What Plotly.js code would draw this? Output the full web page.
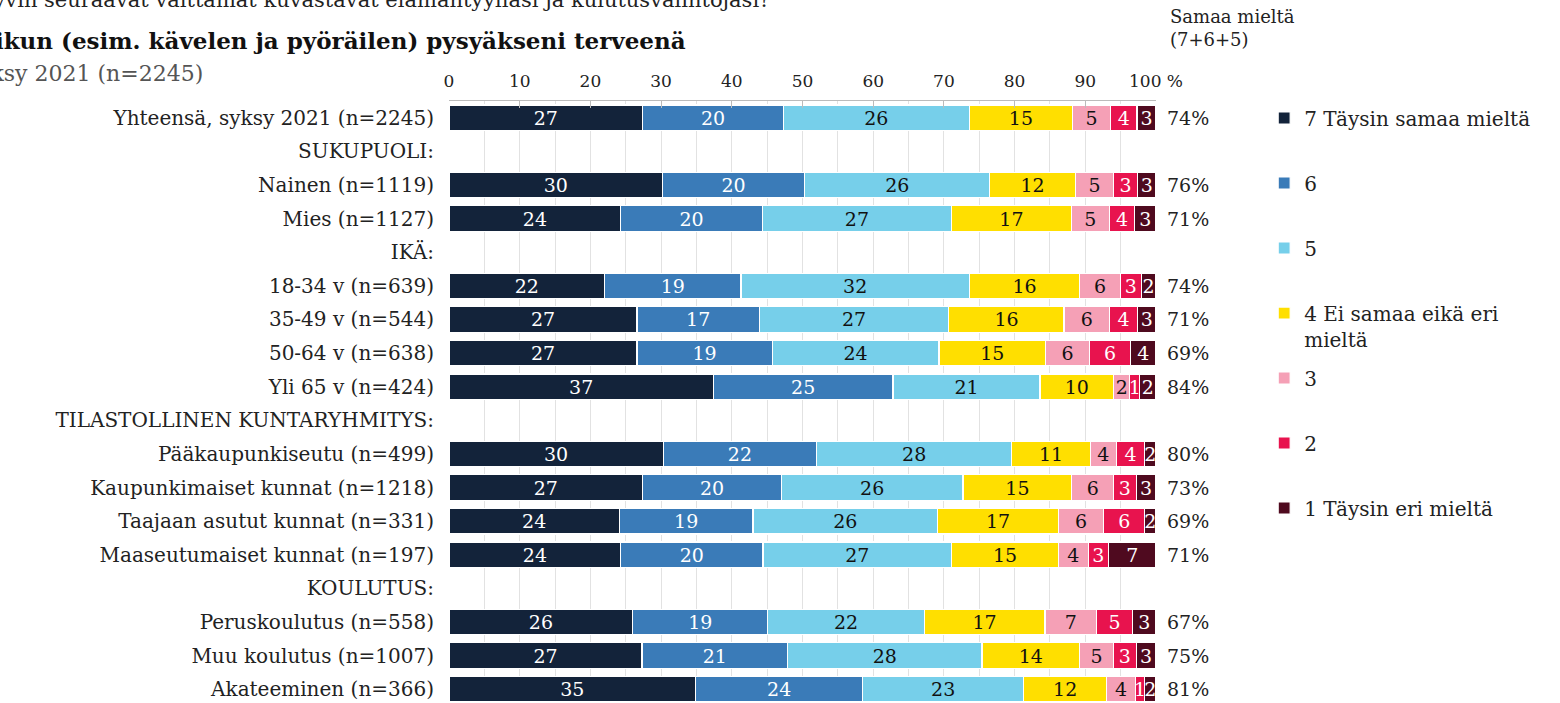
<!DOCTYPE html>
<html>
<head>
<meta charset="utf-8">
<script src="https://cdn.plot.ly/plotly-3.0.1.min.js"></script>
<style>body{margin:0;background:#fff}#plot{width:1560px;height:703px}</style>
</head>
<body>
<div id="plot"></div>
<script>
// rivit ylhäältä alas
const categories=["Yhteensä, syksy 2021 (n=2245)","SUKUPUOLI:","Nainen (n=1119)","Mies (n=1127)","IKÄ:","18-34 v (n=639)","35-49 v (n=544)","50-64 v (n=638)","Yli 65 v (n=424)","TILASTOLLINEN KUNTARYHMITYS:","Pääkaupunkiseutu (n=499)","Kaupunkimaiset kunnat (n=1218)","Taajaan asutut kunnat (n=331)","Maaseutumaiset kunnat (n=197)","KOULUTUS:","Peruskoulutus (n=558)","Muu koulutus (n=1007)","Akateeminen (n=366)"];
const s7=[27.4,null,30.2,24.3,null,22.0,26.6,26.6,37.4,null,30.3,27.4,24.1,24.3,null,26.0,27.3,34.9];
const s6=[19.9,null,20.1,20.0,null,19.3,17.3,19.1,25.4,null,21.7,19.6,18.9,20.1,null,19.1,20.6,23.6];
const s5=[26.3,null,26.2,26.8,null,32.3,26.8,23.6,20.8,null,27.6,25.7,26.1,26.7,null,22.1,27.5,22.8];
const s4=[14.6,null,12.1,16.9,null,15.6,16.3,15.1,10.4,null,11.1,15.4,17.1,15.1,null,17.1,13.8,11.7];
const s3=[5.4,null,5.4,5.4,null,5.8,6.4,6.2,2.3,null,3.7,5.9,6.4,4.2,null,7.3,4.8,4.1];
const s2=[3.7,null,3.4,3.6,null,2.9,4.0,5.8,1.4,null,4.0,3.2,5.8,2.9,null,5.1,3.2,1.3];
const s1=[2.7,null,2.6,3.0,null,2.1,2.6,3.6,2.3,null,1.6,2.8,1.6,6.7,null,3.3,2.8,1.6];
const samaa=[74,null,76,71,null,74,71,69,84,null,80,73,69,71,null,67,75,81];
const names=["7 Täysin samaa mieltä","6","5","4 Ei samaa eikä eri<br>mieltä","3","2","1 Täysin eri mieltä"];
const xticks=[0,10,20,30,40,50,60,70,80,90,100];
const xticktext=["0","10","20","30","40","50","60","70","80","90","100 %"];

const series=[s7,s6,s5,s4,s3,s2,s1];
const colors=["#13233a","#3a7bb8","#76cfea","#ffdf00","#f5a0b6","#e8134e","#4f0a1f"];
const textcols=["#fff","#fff","#111","#111","#111","#fff","#fff"];
const legY=[0.9718,0.8638,0.7558,0.6262,0.5399,0.4319,0.3239];
const FONT="DejaVu Serif";

let data=[];
let layout={
  width:1560,height:703,
  margin:{l:449,r:404,t:101,b:0,pad:0},
  paper_bgcolor:"#fff",plot_bgcolor:"#fff",
  font:{family:FONT,size:20,color:"#222"},
  barmode:"stack",bargap:0.24,showlegend:true,
  uniformtext:{mode:"show",minsize:19},
  xaxis:{range:[0,100],side:"top",tickvals:xticks,ticktext:xticktext,ticks:"inside",ticklen:7,tickcolor:"#bbb",
    showline:true,linecolor:"#bbb",showgrid:true,gridcolor:"#e2e2e2",zeroline:false,fixedrange:true,
    ticklabelstandoff:6,tickfont:{size:17,color:"#222"},
    minor:{dtick:5,showgrid:true,gridcolor:"#e2e2e2"}},
  yaxis:{type:"category",categoryorder:"array",categoryarray:categories,range:[17.41,-0.5],
    showgrid:false,zeroline:false,ticks:"",ticklabelstandoff:14,tickfont:{size:20,color:"#222"}},
  annotations:[],
};
for(let k=0;k<series.length;k++){
  let lg=k==0?"legend":"legend"+(k+1);
  data.push({type:"bar",orientation:"h",y:categories,x:series[k],name:names[k],legend:lg,
    marker:{color:colors[k],line:{color:"#fff",width:1.2}},
    texttemplate:"%{x:.0f}",textposition:"inside",insidetextanchor:"middle",textangle:0,
    textfont:{family:FONT,size:19,color:textcols[k]},hoverinfo:"x+name"});
  layout[lg]={x:1.153,y:legY[k],xanchor:"left",yanchor:"middle",bgcolor:"rgba(0,0,0,0)",
    valign:"top",font:{family:FONT,size:20,color:"#222"}};
}
for(let i=0;i<categories.length;i++){
  if(samaa[i]==null) continue;
  layout.annotations.push({x:100,y:categories[i],xref:"x",yref:"y",text:samaa[i]+"%",xanchor:"left",xshift:9,
    showarrow:false,font:{size:19,color:"#222"}});
}
layout.annotations.push(
  {xref:"paper",yref:"paper",x:(1168-449)/707,y:1.121,xanchor:"left",yanchor:"middle",align:"left",showarrow:false,
   text:"Samaa mieltä<br>(7+6+5)",font:{size:18,color:"#222"}},
  {xref:"paper",yref:"paper",x:(772-449)/707,y:1.167,xanchor:"right",yanchor:"middle",showarrow:false,
   text:"Kuinka hyvin seuraavat väittämät kuvastavat elämäntyyliäsi ja kulutusvalintojasi?",font:{size:21,color:"#222"}},
  {xref:"paper",yref:"paper",x:(688-449)/707,y:1.101,xanchor:"right",yanchor:"middle",showarrow:false,
   text:"<b>Liikun (esim. kävelen ja pyöräilen) pysyäkseni terveenä</b>",font:{family:FONT,size:23,color:"#111"}},
  {xref:"paper",yref:"paper",x:(205-449)/707,y:1.0465,xanchor:"right",yanchor:"middle",showarrow:false,
   text:"Syksy 2021 (n=2245)",font:{size:22,color:"#555"}}
);

Plotly.newPlot("plot",data,layout,{displayModeBar:false,staticPlot:true});
</script>
</body>
</html>
